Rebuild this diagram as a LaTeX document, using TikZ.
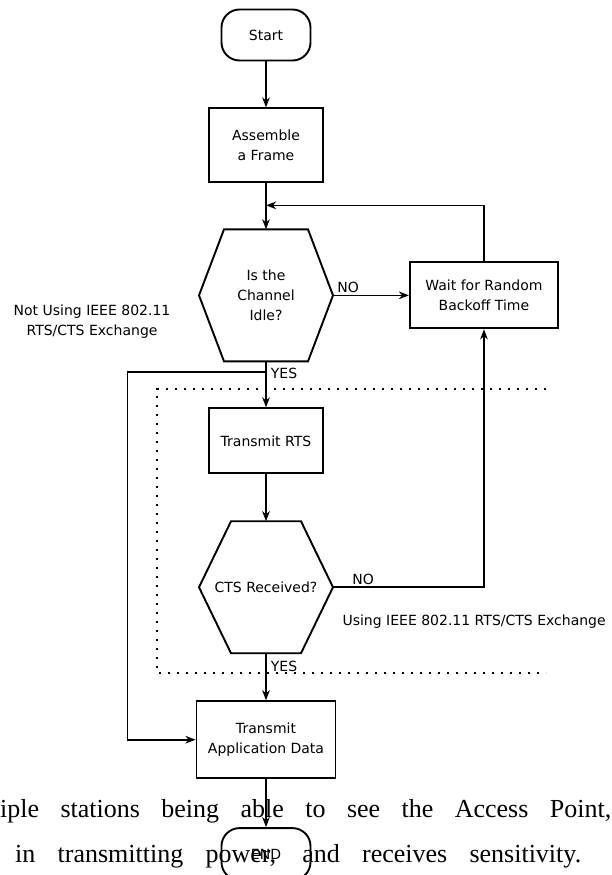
\documentclass[tikz,border=0pt]{standalone}
\usepackage{fontspec}
\setmainfont{DejaVu Sans}
\newfontfamily\bodyfont{Liberation Serif}
\usetikzlibrary{positioning, arrows.meta}
\newcommand{\diagfont}{\fontsize{14}{20}\selectfont}

\begin{document}
\begin{tikzpicture}[
		x=1pt, y=-1pt,
		node distance=46pt and 76pt,
		box/.style={
			draw,
			line width=1.9pt,
			align=center,
			font=\diagfont
		},
		termbox/.style={
			box,
			rounded corners=18pt,
			minimum width=89pt,
			minimum height=51pt
		},
		hexnode/.style={
			align=center,
			inner sep=0pt,
			outer sep=0pt,
			minimum width=134pt,
			minimum height=132pt,
			font=\diagfont
		},
		hexline/.style={line width=1.9pt, line join=miter},
		arrow/.style={-{Stealth[length=10pt, width=7.5pt, inset=3pt]}, line width=1.7pt},
		lbl/.style={font=\diagfont, inner sep=2pt},
		dotline/.style={line width=1.8pt, dash pattern=on 2.2pt off 6.8pt},
		bodytext/.style={font=\bodyfont\fontsize{26}{30}\selectfont, inner sep=0pt, anchor=base west}
		]
		
		\useasboundingbox (0,0) rectangle (612,875);
		
		% dotted frame of the RTS/CTS part
		\draw[dotline] (546,389) -- (157,389) -- (157,673) -- (546,673);
		
		\node[termbox] (start) at (266,35) {Start};
		\node[box, below=of start, minimum width=114pt, minimum height=74pt] (assemble) {Assemble\\a Frame};
		\node[hexnode, below=of assemble] (idle) {Is the\\Channel\\Idle?};
		\node[box, right=of idle, minimum width=148pt, minimum height=66pt] (wait) {Wait for Random\\Backoff Time};
		\node[box, below=of idle, minimum width=114pt, minimum height=65pt] (rts) {Transmit RTS};
		\node[hexnode, below=47pt of rts] (cts) {CTS Received?};
		\node[box, below=47pt of cts, minimum width=139pt, minimum height=77pt] (data) {Transmit\\Application Data};
		\node[termbox, below=48pt of data, minimum height=52pt] (end) {END};
		
		% hexagon outlines
		\draw[hexline] (idle.west) -- ([xshift=25pt]idle.north west) -- ([xshift=-25pt]idle.north east)
			-- (idle.east) -- ([xshift=-25pt]idle.south east) -- ([xshift=25pt]idle.south west) -- cycle;
		\draw[hexline] (cts.west) -- ([xshift=32pt]cts.north west) -- ([xshift=-32pt]cts.north east)
			-- (cts.east) -- ([xshift=-32pt]cts.south east) -- ([xshift=32pt]cts.south west) -- cycle;
		
		\coordinate (merge) at ([yshift=-22pt]assemble.south);
		\coordinate (split) at ([yshift=-10.5pt]idle.south);
		
		\draw[arrow] (start) -- (assemble);
		\draw[arrow] (assemble) -- (idle);
		\draw[arrow] (idle) -- node[lbl, pos=0.2, above] {NO} (wait);
		\draw[arrow] (wait.north) |- (merge);
		\draw[arrow] (idle) -- node[lbl, pos=0.27, right, xshift=2pt] {YES} (rts);
		\draw[arrow] (rts) -- (cts);
		\draw[arrow] (cts.east) -| node[lbl, pos=0.1, above] {NO} (wait.south);
		\draw[arrow] (cts) -- node[lbl, pos=0.29, right, xshift=2pt] {YES} (data);
		\draw[arrow] (split) -| ([xshift=-68pt]data.west) -- (data.west);
		\draw[arrow] (data) -- (end);
		
		\node[font=\diagfont, align=center] (notusing) at (92,322) {Not Using IEEE 802.11\\RTS/CTS Exchange};
		\node[font=\diagfont, anchor=west] (using) at (339,622) {Using IEEE 802.11 RTS/CTS Exchange};
		
		\node[bodytext] (line1) at (0,817) {\makebox[611pt][s]{iple stations being able to see the Access Point,}};
		\node[bodytext] (line2) at (15,862) {\makebox[566pt][s]{in transmitting power, and receives sensitivity.}};
		
	\end{tikzpicture}
\end{document}
